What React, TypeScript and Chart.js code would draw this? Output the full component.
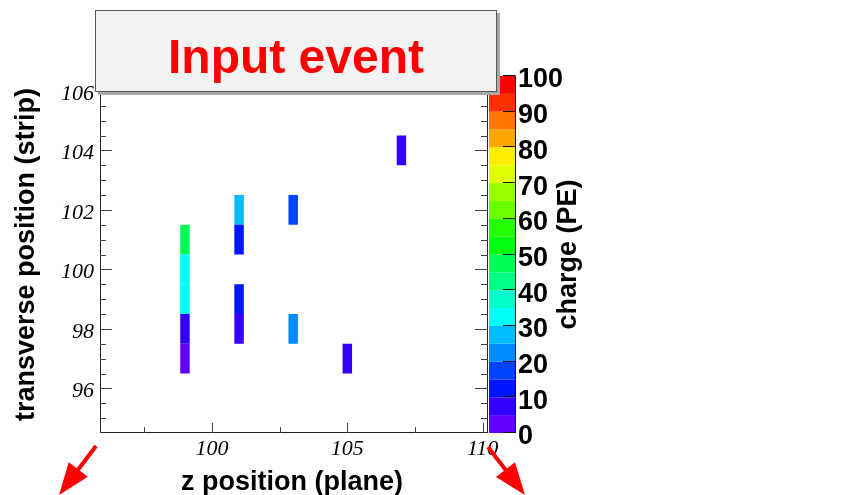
import React, { useEffect, useRef } from "react";
import { Chart, registerables } from "chart.js";

Chart.register(...registerables);

// ---- data ----
const zPlane = [99, 99, 99, 99, 99, 101, 101, 101, 101, 103, 103, 105, 107];
const stripPos = [101, 100, 99, 98, 97, 102, 101, 99, 98, 102, 98, 97, 104];
const chargePE = [47, 33, 32, 8, 3, 27, 12, 12, 8, 17, 22, 7, 8];

const xTickValues = [100, 105, 110];
const xMinorTickValues = [97.5, 102.5, 107.5];
const yTickValues = [96, 98, 100, 102, 104, 106];
const chargeTickValues = [0, 10, 20, 30, 40, 50, 60, 70, 80, 90, 100];

// ROOT "pretty" palette, 20 contour levels (bottom -> top)
const paletteColors = [
  "#6200ff", "#3300ff", "#0014ff", "#0044ff", "#008bff",
  "#00bbff", "#00fffb", "#00ffcc", "#00ff85", "#00ff55",
  "#00ff0e", "#22ff00", "#69ff00", "#99ff00", "#e0ff00",
  "#ffee00", "#ffa700", "#ff7700", "#ff3000", "#ff0000",
];

const titleText = "Input event";
const xTitle = "z position (plane)";
const yTitle = "transverse position (strip)";
const zTitle = "charge (PE)";

const X_MIN = 95.86;
const X_MAX = 110.2;
const Y_MIN = 94.5;
const Y_MAX = 106.5;
const Z_MIN = 0;
const Z_MAX = 100;
const BIN_HALF_W = 0.175;
const BIN_HALF_H = 0.5;

const SANS = "'Liberation Sans', Arial, sans-serif";
const SERIF = "'Liberation Serif', 'Times New Roman', serif";

function colorFor(v: number) {
  const n = paletteColors.length;
  let k = Math.floor(((v - Z_MIN) / (Z_MAX - Z_MIN)) * n);
  if (k < 0) k = 0;
  if (k >= n) k = n - 1;
  return paletteColors[k];
}

function drawArrow(ctx: CanvasRenderingContext2D, x1: number, y1: number, x2: number, y2: number) {
  const ang = Math.atan2(y2 - y1, x2 - x1);
  const len = 32;
  const hw = 12;
  const bx = x2 - len * Math.cos(ang);
  const by = y2 - len * Math.sin(ang);
  ctx.strokeStyle = "#ff0000";
  ctx.fillStyle = "#ff0000";
  ctx.lineWidth = 4;
  ctx.beginPath();
  ctx.moveTo(x1, y1);
  ctx.lineTo(bx + 2 * Math.cos(ang), by + 2 * Math.sin(ang));
  ctx.stroke();
  ctx.beginPath();
  ctx.moveTo(x2, y2);
  ctx.lineTo(bx - hw * Math.sin(ang), by + hw * Math.cos(ang));
  ctx.lineTo(bx + hw * Math.sin(ang), by - hw * Math.cos(ang));
  ctx.closePath();
  ctx.fill();
}

const rootPlugin = {
  id: "rootColz",
  beforeDatasetsDraw(chart: any) {
    const { ctx, scales } = chart;
    const xs = scales.x;
    const ys = scales.y;
    const pts = chart.data.datasets[0].data as { x: number; y: number; v: number }[];
    ctx.save();
    for (const p of pts) {
      const x0 = xs.getPixelForValue(p.x - BIN_HALF_W);
      const x1 = xs.getPixelForValue(p.x + BIN_HALF_W);
      const y0 = ys.getPixelForValue(p.y + BIN_HALF_H);
      const y1 = ys.getPixelForValue(p.y - BIN_HALF_H);
      ctx.fillStyle = colorFor(p.v);
      ctx.fillRect(x0, y0, x1 - x0, y1 - y0);
    }
    ctx.restore();
  },
  afterDraw(chart: any) {
    const { ctx, chartArea: a, scales } = chart;
    const xs = scales.x;
    const ys = scales.y;
    const zs = scales.yc;
    ctx.save();

    // palette
    const pl = a.right + 1;
    const pw = 26;
    const n = paletteColors.length;
    for (let k = 0; k < n; k++) {
      const v0 = Z_MIN + ((Z_MAX - Z_MIN) * k) / n;
      const v1 = Z_MIN + ((Z_MAX - Z_MIN) * (k + 1)) / n;
      const yt = zs.getPixelForValue(v1);
      const yb = zs.getPixelForValue(v0);
      ctx.fillStyle = paletteColors[k];
      ctx.fillRect(pl, yt, pw, yb - yt);
    }
    ctx.strokeStyle = "#111";
    ctx.lineWidth = 1;
    ctx.beginPath();
    ctx.moveTo(pl + pw + 0.5, zs.getPixelForValue(Z_MAX));
    ctx.lineTo(pl + pw + 0.5, zs.getPixelForValue(Z_MIN));
    for (const v of chargeTickValues) {
      const yy = Math.round(zs.getPixelForValue(v)) - 0.5;
      ctx.moveTo(pl + pw - 12, yy);
      ctx.lineTo(pl + pw + 0.5, yy);
    }
    ctx.stroke();

    // frame / axes
    ctx.strokeStyle = "#222";
    ctx.beginPath();
    ctx.moveTo(a.left + 0.5, a.top);
    ctx.lineTo(a.left + 0.5, a.bottom - 0.5);
    ctx.lineTo(a.right, a.bottom - 0.5);
    ctx.moveTo(a.right - 0.5, a.top);
    ctx.lineTo(a.right - 0.5, a.bottom);
    ctx.stroke();

    // ticks
    ctx.strokeStyle = "#444";
    ctx.beginPath();
    for (const v of xTickValues) {
      const xx = Math.round(xs.getPixelForValue(v)) + 0.5;
      ctx.moveTo(xx, a.bottom);
      ctx.lineTo(xx, a.bottom - 10);
    }
    for (const v of xMinorTickValues) {
      const xx = Math.round(xs.getPixelForValue(v)) + 0.5;
      ctx.moveTo(xx, a.bottom);
      ctx.lineTo(xx, a.bottom - 6);
    }
    for (let v = Y_MIN + 0.5; v < Y_MAX; v += 0.5) {
      const major = yTickValues.indexOf(v) >= 0;
      const yy = Math.round(ys.getPixelForValue(v)) + 0.5;
      const l = major ? 12 : 6;
      ctx.moveTo(a.left, yy);
      ctx.lineTo(a.left + l, yy);
      ctx.moveTo(a.right, yy);
      ctx.lineTo(a.right - (major ? 13 : 7), yy);
    }
    ctx.stroke();

    // axis titles
    ctx.fillStyle = "#000";
    ctx.font = `bold 27px ${SANS}`;
    ctx.textAlign = "center";
    ctx.textBaseline = "alphabetic";
    ctx.fillText(xTitle, (a.left + a.right) / 2 - 2, 490);

    ctx.save();
    ctx.translate(34, (a.top + a.bottom) / 2);
    ctx.rotate(-Math.PI / 2);
    ctx.fillText(yTitle, 0, 0);
    ctx.restore();

    ctx.save();
    ctx.translate(576, (a.top + a.bottom) / 2);
    ctx.rotate(-Math.PI / 2);
    ctx.fillText(zTitle, 0, 0);
    ctx.restore();

    // title box
    const bx = a.left - 5;
    const by = 10;
    const bw = a.right + 9 - bx;
    const bh = 82;
    ctx.fillStyle = "#a8a8a8";
    ctx.fillRect(bx + 3, by + 3, bw, bh);
    ctx.fillStyle = "#f3f3f3";
    ctx.fillRect(bx, by, bw, bh);
    ctx.strokeStyle = "#555";
    ctx.lineWidth = 1;
    ctx.strokeRect(bx + 0.5, by + 0.5, bw - 1, bh - 1);
    ctx.fillStyle = "#ff0000";
    ctx.font = `bold 48px ${SANS}`;
    ctx.textAlign = "center";
    ctx.fillText(titleText, bx + bw / 2, 73);

    // arrows
    drawArrow(ctx, a.left - 4, a.bottom + 13, a.left - 41, a.bottom + 62);
    drawArrow(ctx, a.right, a.bottom + 14, a.right + 37, a.bottom + 62);

    ctx.restore();
  },
};

export default function App() {
  const ref = useRef<HTMLCanvasElement | null>(null);

  useEffect(() => {
    if (!ref.current) return;
    const data = zPlane.map((z, i) => ({ x: z, y: stripPos[i], v: chargePE[i] }));
    const chart = new Chart(ref.current, {
      type: "scatter",
      data: {
        datasets: [
          {
            data,
            pointRadius: 0,
            pointHoverRadius: 0,
            showLine: false,
          },
        ],
      },
      plugins: [rootPlugin],
      options: {
        animation: false,
        responsive: false,
        devicePixelRatio: 1,
        events: [],
        layout: { padding: { left: 0, top: 76, right: 284, bottom: 0 } },
        plugins: { legend: { display: false }, tooltip: { enabled: false }, title: { display: false } },
        scales: {
          x: {
            type: "linear",
            min: X_MIN,
            max: X_MAX,
            grid: { display: false, drawTicks: false },
            border: { display: false },
            afterBuildTicks: (s: any) => {
              s.ticks = xTickValues.map((v) => ({ value: v }));
            },
            afterFit: (s: any) => {
              s.height = 62;
            },
            ticks: {
              autoSkip: false,
              maxRotation: 0,
              padding: 3,
              color: "#000",
              font: { family: SERIF, size: 22, style: "italic" },
              callback: (v: any) => String(v),
            },
          },
          y: {
            type: "linear",
            min: Y_MIN,
            max: Y_MAX,
            grid: { display: false, drawTicks: false },
            border: { display: false },
            afterBuildTicks: (s: any) => {
              s.ticks = yTickValues.map((v) => ({ value: v }));
            },
            afterFit: (s: any) => {
              s.width = 100;
            },
            ticks: {
              autoSkip: false,
              padding: 6,
              labelOffset: 3,
              color: "#000",
              font: { family: SERIF, size: 22, style: "italic" },
              callback: (v: any) => String(v),
            },
          },
          yc: {
            type: "linear",
            position: "right",
            min: Z_MIN,
            max: Z_MAX,
            grid: { display: false, drawTicks: false },
            border: { display: false },
            afterBuildTicks: (s: any) => {
              s.ticks = chargeTickValues.map((v) => ({ value: v }));
            },
            afterFit: (s: any) => {
              s.width = 80;
            },
            ticks: {
              autoSkip: false,
              padding: 30,
              labelOffset: 4,
              color: "#000",
              font: { family: SANS, size: 27, weight: "bold" },
              callback: (v: any) => String(v),
            },
          },
        },
      },
    } as any);
    return () => chart.destroy();
  }, []);

  return (
    <div style={{ position: "absolute", left: 0, top: 0, width: 852, height: 495, background: "#fff" }}>
      <canvas ref={ref} width={852} height={495} style={{ display: "block" }} />
    </div>
  );
}
